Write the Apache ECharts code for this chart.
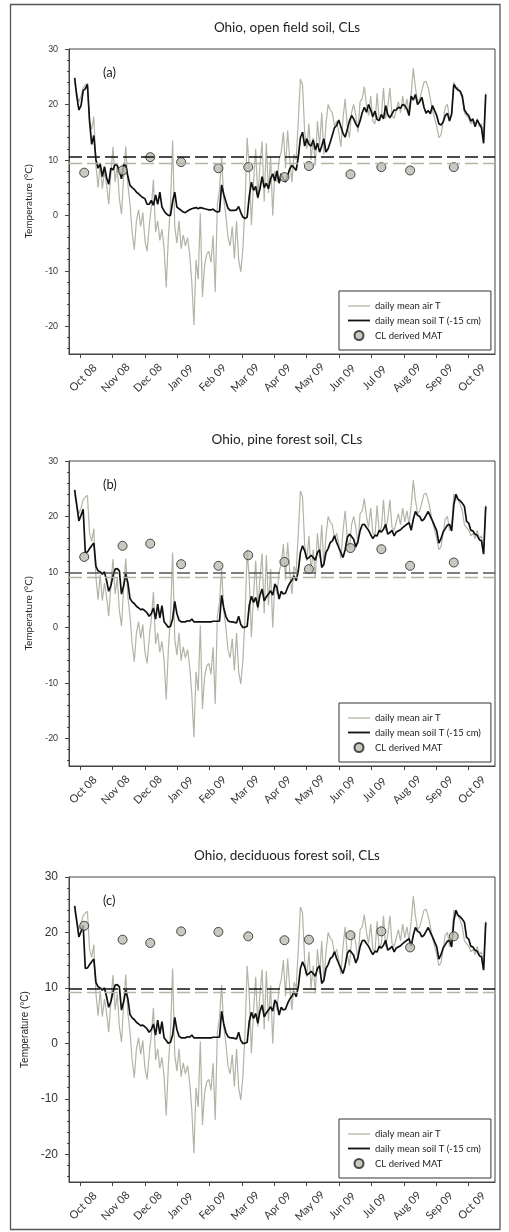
<!DOCTYPE html>
<html><head><meta charset="utf-8">
<script src="https://cdn.jsdelivr.net/npm/echarts@6/dist/echarts.min.js"></script>
<style>html,body{margin:0;padding:0;background:#fff}#c{width:509px;height:1232px}</style>
</head><body><div id="c"></div><script>
// ---- data (days counted from 1 Oct 2008, one value every 2 days) ----
const monthLabels = ['Oct 08','Nov 08','Dec 08','Jan 09','Feb 09','Mar 09','Apr 09','May 09','Jun 09','Jul 09','Aug 09','Sep 09','Oct 09'];
const firstDay = -5, dayStep = 2;
const airT = [
 24.0,22.0,20.5,21.5,23.0,23.5,23.8,17.0,15.5,17.8,
 9.0,5.0,9.5,4.8,8.0,5.5,2.0,7.5,12.3,6.0,
 9.0,3.0,0.2,7.0,12.4,5.5,2.0,-3.0,-6.2,-1.0,
 1.0,-2.0,0.5,-4.5,-6.5,-2.0,1.5,6.4,-3.0,-1.0,
 -4.5,-2.5,-6.0,-13.0,-4.0,2.0,13.5,-2.0,-5.0,-1.0,
 -6.0,-3.5,-5.5,-4.0,-7.0,-12.0,-19.8,-8.0,-11.5,0.4,
 -14.7,-9.0,-7.0,-6.5,-8.5,-3.6,-13.8,2.0,4.5,10.5,
 3.0,0.0,-4.0,-5.5,-2.0,-7.8,-1.0,-8.0,-10.2,-6.0,
 2.0,14.0,8.5,-1.8,6.0,12.0,3.0,9.0,13.3,2.5,
 13.0,4.0,10.5,0.0,8.0,6.0,10.0,11.5,15.0,8.5,
 15.3,10.0,6.0,11.0,10.0,17.0,24.6,23.5,15.0,12.0,
 16.5,10.0,14.0,9.0,17.0,12.5,18.5,11.0,16.5,20.0,
 19.0,18.5,16.0,17.0,15.0,12.4,17.5,21.0,16.0,14.0,
 18.5,20.0,18.0,15.0,20.5,21.0,23.2,20.0,18.0,21.5,
 17.0,16.5,22.0,17.0,18.0,23.0,17.5,19.5,23.0,18.0,
 17.5,19.0,20.5,18.5,21.5,19.0,21.0,18.5,22.0,26.5,
 23.0,20.5,21.0,22.5,24.0,24.2,23.0,21.0,19.0,17.5,
 16.0,14.0,14.5,17.0,19.5,20.0,17.5,18.0,24.0,23.2,
 23.0,22.2,21.0,18.5,18.0,17.5,16.5,17.0,16.0,17.5,
 16.0,16.5,13.5,22.0];
const soilOpen = [
 24.8,21.5,19.0,19.8,22.5,22.8,23.6,17.0,12.8,14.4,
 10.0,8.5,9.3,7.0,8.8,6.8,5.6,8.5,8.2,9.2,
 9.0,8.0,6.6,9.2,9.0,7.0,5.4,5.0,4.7,4.2,
 3.9,3.5,3.2,3.0,2.0,2.0,2.7,1.8,3.7,2.0,
 4.2,1.5,0.8,0.3,0.0,0.0,2.5,4.2,1.5,1.2,
 0.9,0.6,0.5,0.8,1.0,1.2,1.3,1.4,1.2,1.4,
 1.3,1.2,1.1,1.0,1.0,1.1,0.8,0.6,0.7,5.5,
 3.8,2.5,1.3,0.9,0.9,0.9,1.0,1.6,0.5,-0.3,
 -0.6,-0.3,3.5,6.0,4.5,5.2,3.2,4.8,7.0,5.0,
 5.8,4.8,6.6,7.5,6.2,8.0,5.8,7.5,6.5,6.0,
 7.2,8.4,9.0,8.6,8.1,10.5,14.0,15.0,12.5,13.8,
 12.8,12.5,13.6,11.8,13.0,11.4,12.5,13.8,11.4,12.0,
 13.2,14.5,15.8,16.2,17.2,16.0,14.8,14.1,15.5,17.0,
 18.0,17.4,16.5,15.9,17.0,18.5,19.5,18.6,20.0,19.0,
 17.8,18.8,17.3,17.1,18.2,17.4,19.8,18.2,17.6,18.3,
 19.0,19.0,19.5,19.3,20.0,19.8,19.2,18.0,21.5,20.8,
 21.8,20.0,20.5,21.3,19.5,18.4,18.9,18.3,19.8,18.9,
 18.0,16.5,16.3,16.8,18.0,18.4,17.0,18.3,23.6,23.0,
 22.6,22.4,21.5,19.0,18.4,18.0,17.0,17.4,16.0,17.2,
 16.5,15.8,13.0,21.8];
const soilPine = [
 24.8,22.0,19.2,20.2,21.3,13.5,13.6,14.2,14.7,15.2,
 11.0,10.2,10.0,9.6,10.0,8.4,6.5,7.5,9.3,10.5,
 10.6,10.2,6.0,7.5,9.6,8.0,5.2,4.6,4.3,3.8,
 3.5,3.2,3.3,3.0,2.6,2.0,2.5,3.5,1.5,4.2,
 1.7,3.9,1.0,0.5,0.0,0.2,1.5,4.7,2.5,1.3,
 1.0,1.0,1.0,1.2,1.1,1.5,1.0,1.0,1.0,1.0,
 1.0,1.0,1.0,1.0,1.0,1.1,1.1,1.1,1.1,5.8,
 3.5,2.0,1.2,1.0,1.0,0.9,0.8,2.0,0.5,0.0,
 0.0,0.2,4.0,5.6,4.5,5.4,3.6,5.8,6.9,4.8,
 5.5,6.0,6.6,5.8,7.8,7.2,5.1,6.5,6.0,6.2,
 7.2,8.0,8.5,9.3,8.4,10.2,13.5,14.7,13.8,12.3,
 12.6,13.0,12.6,12.1,13.5,14.0,10.8,11.4,13.5,14.2,
 15.3,15.6,16.5,15.3,14.4,13.5,12.6,14.0,16.2,16.8,
 16.4,15.9,14.5,15.5,17.4,18.5,18.6,18.0,17.5,16.7,
 16.0,16.6,16.5,17.5,17.2,17.7,18.6,16.8,17.1,17.5,
 16.5,17.2,17.4,17.6,18.0,18.3,18.6,18.9,17.5,19.5,
 20.9,20.2,20.0,19.2,19.5,20.2,20.9,20.0,19.2,18.3,
 17.4,15.2,16.0,17.2,17.8,18.4,18.6,17.4,22.0,24.0,
 23.1,22.8,22.4,21.8,19.1,18.8,17.5,17.4,16.8,16.6,
 15.8,15.6,13.2,21.8];
const soilDeciduous = soilPine; // the deciduous-forest panel shows the same soil record
const matDays = [4,40,66,95,130,158,192,215,254,283,310,351];
const matOpen = [7.7,8.1,10.5,9.6,8.5,8.7,6.9,8.9,7.4,8.7,8.1,8.7];
const matPine = [12.7,14.7,15.1,11.4,11.1,13.0,11.8,10.5,14.3,14.1,11.1,11.7];
const matDecid = [21.2,18.7,18.1,20.2,20.1,19.3,18.6,18.7,19.5,20.2,17.3,19.3];
const meanSoil = [10.6, 9.8, 9.9];
const meanAir = [9.4, 9.0, 9.2];
const yLabels = [-20,-10,0,10,20,30];
const yMinor = [-24,-22,-18,-16,-14,-12,-8,-6,-4,-2,2,4,6,8,12,14,16,18,22,24,26,28];
const titles = ['Ohio, open field soil, CLs','Ohio, pine forest soil, CLs','Ohio, deciduous forest soil, CLs'];
const tags = ['(a)','(b)','(c)'];
const airNames = ['daily mean air T','daily mean air T','dialy mean air T'];
const soilName = 'daily mean soil T (-15 cm)';
const matName = 'CL derived MAT';

// ---- build ----
const soils = [soilOpen, soilPine, soilDeciduous];
const mats = [matOpen, matPine, matDecid];
const pairs = arr => arr.map((v,i)=>[firstDay + i*dayStep, v]);
const monthTicks = monthLabels.map((_,k)=>k*365/12);

const gridTop = [49, 461, 877];
const gridH = 305;
const F = 'Lato, "Open Sans", sans-serif';
const AX = '#444';
const AIR = '#b3b3a6', SOIL = '#111';

const grid=[], xAxis=[], yAxis=[], series=[], title=[], legend=[], graphic=[];
graphic.push({type:'rect', shape:{x:10.5,y:4.5,width:489.5,height:1225}, style:{fill:'none', stroke:'#555', lineWidth:1.3}, silent:true, z:-1});

for (let i=0;i<3;i++){
  const cPanel = i===2;
  grid.push({left:69, right:14, top:gridTop[i], height:gridH, show:true, borderColor:AX, borderWidth:1, backgroundColor:'transparent', outerBoundsMode:'none'});
  xAxis.push({type:'value', gridIndex:i, min:-10.3, max:389.7,
    axisLine:{show:true, onZero:false, lineStyle:{color:AX,width:1}},
    axisTick:{show:true, length:4, customValues:monthTicks, lineStyle:{color:AX}},
    axisLabel:{customValues:monthTicks, rotate:45, margin:27, align:'center', verticalAlign:'middle',
      padding:[0,0,0,9], fontSize:11, color:'#333', fontFamily:F,
      formatter:v=>monthLabels[Math.round(v/(365/12))]},
    splitLine:{show:false}});
  yAxis.push({type:'value', gridIndex:i, min:-25, max:30, position:'left',
    axisLine:{show:true, onZero:false, lineStyle:{color:AX,width:1}},
    axisTick:{show:true, length:4, customValues:yLabels, lineStyle:{color:AX}},
    axisLabel:{customValues:yLabels, margin:11, fontSize: cPanel?12:8.5, color:'#333',
      fontFamily: cPanel?'"Liberation Sans", Arial, sans-serif':F},
    splitLine:{show:false},
    name:'Temperature (°C)', nameLocation:'middle', nameGap:31,
    nameTextStyle:{fontSize:10, color:'#222', fontFamily: cPanel?'"Liberation Sans", Arial, sans-serif':F}});
  yAxis.push({type:'value', gridIndex:i, min:-25, max:30, position:'left', offset:0,
    axisLine:{show:false, onZero:false}, axisTick:{show:true, length:2, customValues:yMinor, lineStyle:{color:AX}},
    axisLabel:{show:false}, splitLine:{show:false}});
  series.push({name:airNames[i], type:'line', xAxisIndex:i, yAxisIndex:2*i, data:pairs(airT),
    symbol:'none', lineStyle:{color:AIR, width:1.2}, itemStyle:{color:AIR}, z:2,
    markLine:{silent:true, symbol:'none', label:{show:false}, animation:false,
      data:[{yAxis:meanSoil[i], lineStyle:{color: i===1?'#555':'#111', type:[13,5], width:1.5}},
            {yAxis:meanAir[i], lineStyle:{color:AIR, type:[13,5], width:1.3}}]}});
  series.push({name:soilName, type:'line', xAxisIndex:i, yAxisIndex:2*i, data:pairs(soils[i]),
    symbol:'none', lineStyle:{color:SOIL, width:1.7}, itemStyle:{color:SOIL}, z:3});
  series.push({name:matName, type:'scatter', xAxisIndex:i, yAxisIndex:2*i,
    data:matDays.map((d,k)=>[d, mats[i][k]]), symbol:'circle', symbolSize:9,
    itemStyle:{color:'#bdbcb0', borderColor:'#222', borderWidth:1}, z:4});
  title.push({text:titles[i], left:282, textAlign:'center', top:gridTop[i]-33,
    textStyle:{fontSize:13.5, fontWeight:'normal', color:'#222', fontFamily:F}});
  legend.push({orient:'vertical', left:339, top:gridTop[i]+gridH-63,
    data:[{name:airNames[i], icon:'path://M0,0 L22,0 L22,1.3 L0,1.3 Z', itemStyle:{color:AIR}},
          {name:soilName, icon:'path://M0,0 L22,0 L22,1.8 L0,1.8 Z', itemStyle:{color:SOIL}},
          {name:matName}],
    itemWidth:22, itemHeight:9, itemGap:4.5, padding:[10,10,9,9], borderColor:'#333', borderWidth:1,
    backgroundColor:'#fff', selectedMode:false, symbolKeepAspect:true,
    textStyle:{fontSize:9.5, color:'#222', fontFamily:F}});
  graphic.push({type:'text', left:103, top:gridTop[i]+17, style:{text:tags[i], fontSize:13, fill:'#222', fontFamily:F}});
}

const chart = echarts.init(document.getElementById('c'), null, {renderer:'canvas'});
chart.setOption({animation:false, backgroundColor:'#fff', grid, xAxis, yAxis, series, title, legend, graphic});
</script></body></html>
